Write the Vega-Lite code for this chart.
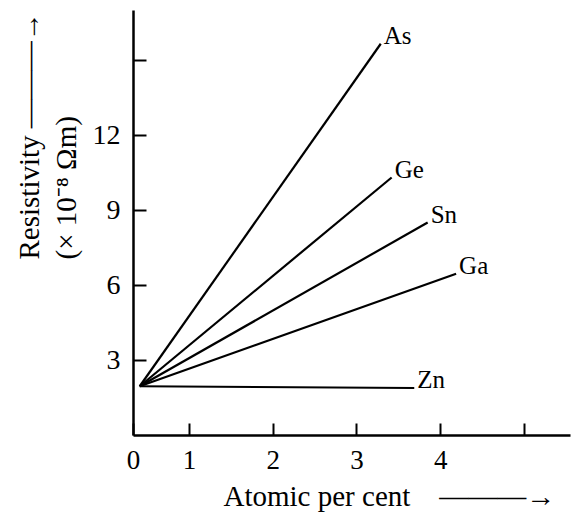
{
  "$schema": "https://vega.github.io/schema/vega-lite/v6.json",
  "width": 437,
  "height": 425,
  "autosize": {"type": "none"},
  "padding": {"left": 133, "top": 10, "right": 9, "bottom": 77},
  "background": "white",
  "config": {
    "font": "Liberation Serif",
    "view": {"stroke": null},
    "axis": {"grid": false, "domainColor": "black", "domainWidth": 2.5, "tickColor": "black", "tickWidth": 2, "labelColor": "black", "titleColor": "black", "labelFont": "Liberation Serif", "titleFont": "Liberation Serif", "titleFontWeight": "normal"}
  },
  "data": {
    "values": [
      {"metal": "As", "x": 0.12, "y": 1.95, "end": false},
      {"metal": "As", "x": 3.29, "y": 15.65, "end": true},
      {"metal": "Ge", "x": 0.12, "y": 1.95, "end": false},
      {"metal": "Ge", "x": 3.42, "y": 10.3, "end": true},
      {"metal": "Sn", "x": 0.12, "y": 1.95, "end": false},
      {"metal": "Sn", "x": 3.85, "y": 8.5, "end": true},
      {"metal": "Ga", "x": 0.12, "y": 1.95, "end": false},
      {"metal": "Ga", "x": 4.19, "y": 6.45, "end": true},
      {"metal": "Zn", "x": 0.12, "y": 1.95, "end": false},
      {"metal": "Zn", "x": 3.69, "y": 1.88, "end": true}
    ]
  },
  "encoding": {
    "x": {
      "field": "x",
      "type": "quantitative",
      "scale": {"domain": [0, 1, 5.55], "range": [0, 56, 437], "nice": false, "zero": false},
      "axis": {
        "values": [0, 1, 2, 3, 4, 5],
        "labelExpr": "datum.value == 5 ? '' : datum.label",
        "labelFlush": false,
        "tickSize": -12,
        "labelPadding": 24,
        "labelFontSize": 27,
        "title": "Atomic per cent\u00a0\u00a0\u00a0\u00a0———→",
        "titleFontSize": 29,
        "titleAlign": "left",
        "titleAnchor": "start",
        "titleX": 90,
        "titleY": 47,
        "titleBaseline": "top"
      }
    },
    "y": {
      "field": "y",
      "type": "quantitative",
      "scale": {"domain": [0, 17], "nice": false},
      "axis": {
        "values": [3, 6, 9, 12, 15],
        "labelExpr": "datum.value == 15 ? '' : datum.label",
        "tickSize": -13,
        "labelPadding": 26,
        "labelFontSize": 28,
        "title": ["Resistivity ———→", "(× 10⁻⁸ Ωm)"],
        "titleFontSize": 29,
        "titleLineHeight": 37,
        "titleAngle": 270,
        "titleAlign": "left",
        "titleBaseline": "top",
        "titleX": -118,
        "titleY": 249
      }
    }
  },
  "layer": [
    {
      "mark": {"type": "line", "color": "black", "strokeWidth": 2.2},
      "encoding": {"detail": {"field": "metal"}}
    },
    {
      "transform": [{"filter": "datum.end"}],
      "mark": {"type": "text", "align": "left", "baseline": "middle", "dx": 3, "dy": -8, "fontSize": 25, "color": "black", "clip": false},
      "encoding": {"text": {"field": "metal"}}
    }
  ]
}
